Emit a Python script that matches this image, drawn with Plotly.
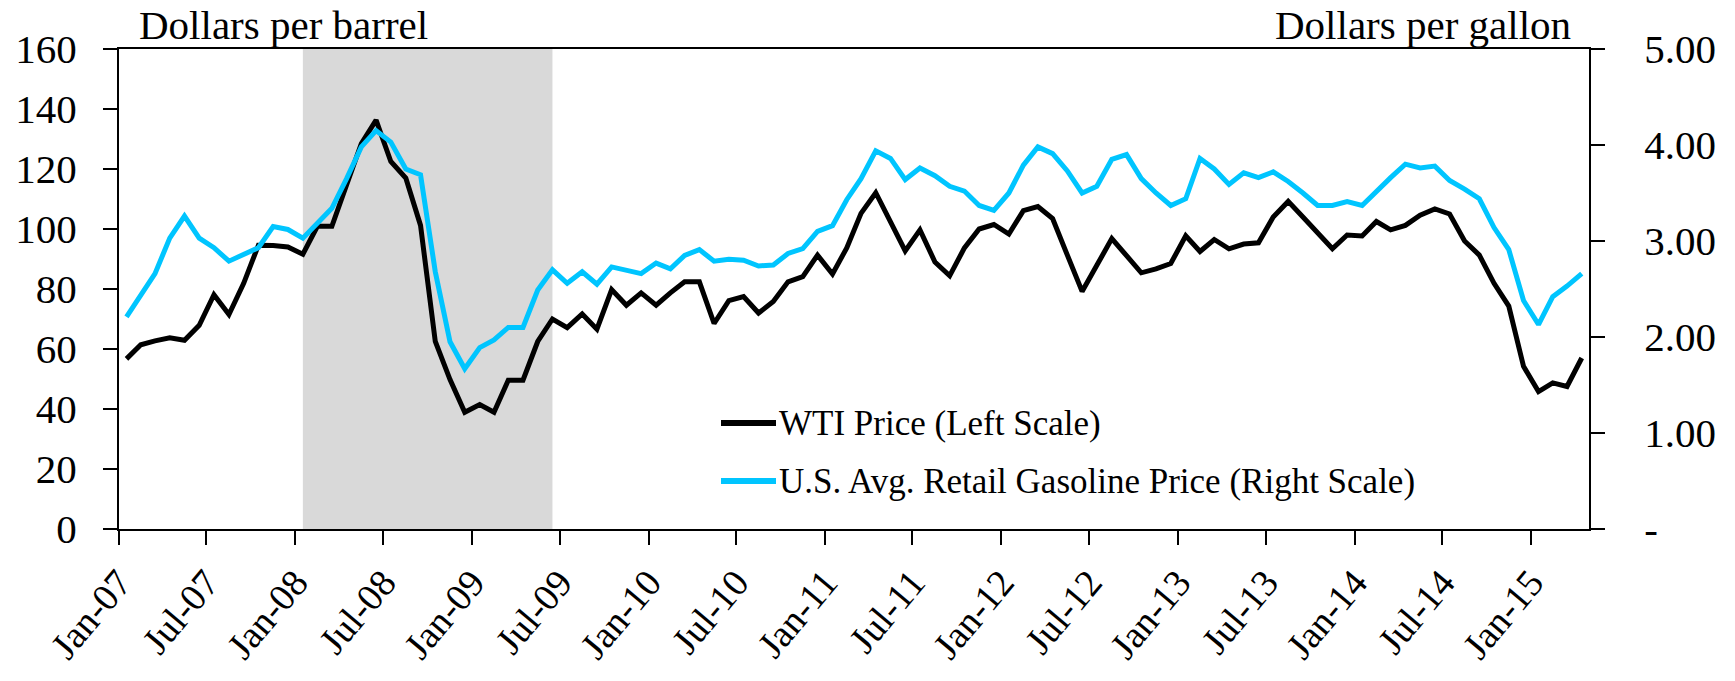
import pandas as pd
import plotly.graph_objects as go

# ---- data (monthly, Jan-2007 .. Apr-2015) ----
start_month = "2007-01-01"
n_months = 100
wti = [56.7, 61.4, 62.7, 63.7, 62.9, 67.9, 78.1, 71.5, 81.9, 94.6,
       94.5, 94.0, 91.6, 100.9, 100.9, 114.8, 128.5, 136.3, 122.5, 117.0,
       101.2, 62.5, 49.8, 38.9, 41.5, 38.9, 49.6, 49.6, 62.5, 70.0,
       67.1, 71.7, 66.6, 79.8, 74.6, 78.7, 74.6, 78.7, 82.4, 82.4,
       68.5, 76.1, 77.5, 72.0, 75.8, 82.4, 84.1, 91.3, 85.0, 93.7,
       105.2, 112.1, 102.3, 92.7, 99.7, 89.0, 84.4, 93.7, 100.0, 101.5,
       98.3, 106.1, 107.5, 103.5, 91.3, 79.2, 87.9, 96.8, 91.1, 85.4,
       86.7, 88.5, 97.7, 92.5, 96.5, 93.4, 95.0, 95.4, 104.0, 109.2,
       104.0, 98.5, 93.4, 98.0, 97.7, 102.5, 99.7, 101.2, 104.6, 106.7,
       105.0, 96.0, 91.3, 81.9, 74.3, 54.2, 45.8, 48.7, 47.5, 57.0]
gasoline = [2.21, 2.43, 2.66, 3.03, 3.26, 3.03, 2.93, 2.79, 2.86, 2.93,
            3.15, 3.12, 3.03, 3.19, 3.34, 3.65, 3.98, 4.15, 4.03, 3.75,
            3.69, 2.68, 1.95, 1.67, 1.89, 1.97, 2.10, 2.10, 2.49, 2.70,
            2.56, 2.68, 2.55, 2.73, 2.69, 2.66, 2.77, 2.71, 2.85, 2.91,
            2.79, 2.81, 2.80, 2.74, 2.75, 2.87, 2.92, 3.10, 3.16, 3.43,
            3.65, 3.94, 3.86, 3.64, 3.76, 3.68, 3.57, 3.52, 3.37, 3.32,
            3.50, 3.79, 3.98, 3.91, 3.73, 3.50, 3.57, 3.85, 3.90, 3.65,
            3.50, 3.37, 3.44, 3.86, 3.75, 3.59, 3.71, 3.66, 3.72, 3.62,
            3.50, 3.37, 3.37, 3.41, 3.37, 3.52, 3.66, 3.80, 3.76, 3.78,
            3.63, 3.54, 3.44, 3.14, 2.91, 2.38, 2.13, 2.42, 2.53, 2.66]
series_names = ["WTI Price (Left Scale)",
                "U.S. Avg. Retail Gasoline Price (Right Scale)"]
recession_start = "2008-01"
recession_end = "2009-06"
left_ticks = [0, 20, 40, 60, 80, 100, 120, 140, 160]
right_ticks = [0, 1, 2, 3, 4, 5]
right_ticktext = ["-", "1.00", "2.00", "3.00", "4.00", "5.00"]

# ---- category positions: each month centred between month-start ticks ----
starts = pd.date_range(start_month, periods=n_months + 1, freq="MS")
mids = starts[:-1] + (starts[1:] - starts[:-1]) / 2

def mid_of(ym):
    s = pd.Timestamp(ym + "-01")
    e = s + pd.offsets.MonthBegin(1)
    return s + (e - s) / 2

FONT = "Liberation Serif"
BLUE = "#00C5FF"
COLORS = ["black", BLUE]

W, H = 1735, 681
L, R, T, B = 119, 146, 49, 152
PW, PH = W - L - R, H - T - B

def px_x(px):
    return (px - L) / PW

def px_y(py):
    return (H - B - py) / PH

fig = go.Figure()
fig.add_trace(go.Scatter(x=mids, y=wti, mode="lines", name=series_names[0],
                         line=dict(color=COLORS[0], width=5)))
fig.add_trace(go.Scatter(x=mids, y=gasoline, mode="lines", name=series_names[1],
                         line=dict(color=COLORS[1], width=5), yaxis="y2"))

fig.add_shape(type="rect", xref="x", yref="y",
              x0=mid_of(recession_start), x1=mid_of(recession_end), y0=0, y1=160,
              fillcolor="#d9d9d9", line=dict(width=0), layer="below")

# legend (drawn as line samples + text)
annotations = []
for k, (name, col) in enumerate(zip(series_names, COLORS)):
    yy = px_y(423 + 58 * k)
    fig.add_shape(type="line", xref="paper", yref="paper",
                  x0=px_x(721), x1=px_x(776), y0=yy, y1=yy,
                  line=dict(color=col, width=6))
    annotations.append(dict(text=name, xref="paper", yref="paper", x=px_x(777), y=yy,
                            xanchor="left", yanchor="middle", showarrow=False,
                            font=dict(family=FONT, size=35, color="black")))

annotations += [
    dict(text="Dollars per barrel", xref="paper", yref="paper", x=px_x(137), y=px_y(25),
         xanchor="left", yanchor="middle", showarrow=False,
         font=dict(family=FONT, size=41)),
    dict(text="Dollars per gallon", xref="paper", yref="paper", x=px_x(1573), y=px_y(25),
         xanchor="right", yanchor="middle", showarrow=False,
         font=dict(family=FONT, size=41)),
]

fig.update_layout(
    width=W, height=H,
    margin=dict(l=L, r=R, t=T, b=B, pad=0, autoexpand=False),
    paper_bgcolor="white", plot_bgcolor="white",
    font=dict(family=FONT, size=41, color="black"),
    showlegend=False,
    xaxis=dict(type="date", range=[starts[0], starts[-1]], automargin=False,
               tick0=start_month, dtick="M6", tickformat="%b-%y",
               tickangle=-50, ticks="outside", ticklen=14, tickwidth=2,
               tickcolor="black", showline=True, linecolor="black", linewidth=2,
               mirror=True, showgrid=False, zeroline=False,
               tickfont=dict(family=FONT, size=38)),
    yaxis=dict(range=[0, 160], tickvals=left_ticks, ticks="outside", ticklen=14,
               automargin=False,
               tickwidth=2, tickcolor="black", showline=True, linecolor="black",
               linewidth=2, showgrid=False, zeroline=False,
               tickfont=dict(family=FONT, size=41), ticklabelstandoff=18),
    yaxis2=dict(range=[0, 5], overlaying="y", side="right", tickvals=right_ticks,
                automargin=False,
                ticktext=right_ticktext, ticks="outside", ticklen=14, tickwidth=2,
                tickcolor="black", showline=True, linecolor="black", linewidth=2,
                showgrid=False, zeroline=False,
                tickfont=dict(family=FONT, size=41), ticklabelstandoff=31),
    annotations=annotations,
)

fig.write_html("out.html", config={"displayModeBar": False},
               post_script="document.body.style.margin='0';document.body.style.overflow='hidden';")
